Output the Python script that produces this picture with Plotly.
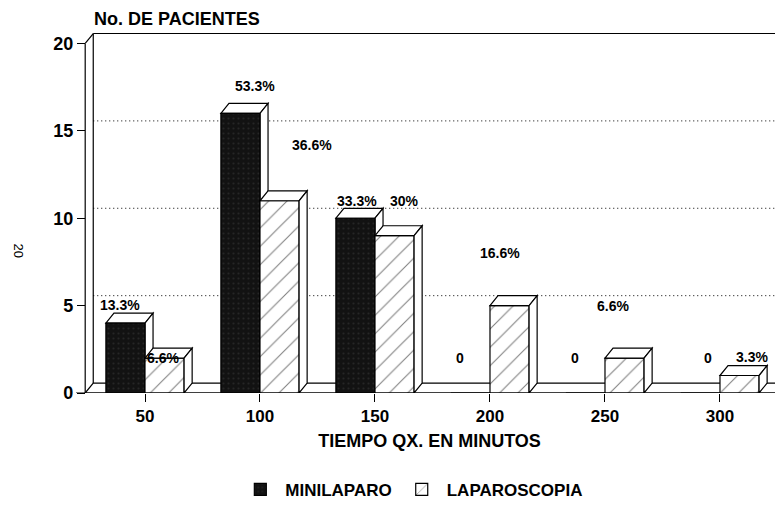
import plotly.graph_objects as go

# ---------------- data ----------------
categories = ["50", "100", "150", "200", "250", "300"]
minilaparo = [4, 16, 10, 0, 0, 0]
laparoscopia = [2, 11, 9, 5, 2, 1]
mini_labels = ["13.3%", "53.3%", "33.3%", "0", "0", "0"]
lap_labels = ["6.6%", "36.6%", "30%", "16.6%", "6.6%", "3.3%"]
y_ticks = [0, 5, 10, 15, 20]

# ---------------- style ----------------
mini_lab_dx = [-0.22, -0.04, -0.16, -0.26, -0.26, -0.10]
mini_lab_dy = [1.05, 1.55, 1.0, 2.0, 2.0, 2.0]
lap_lab_dx = [0.16, 0.45, 0.26, 0.09, 0.07, 0.28]
lap_lab_dy = [0.0, 3.2, 2.0, 3.0, 3.0, 1.05]

BAR_W = 0.34
DX, DY = 0.07, 0.57          # 3-D depth offset (data units)
XMIN, XMAX = -0.6, 5.548
YMAX = 21.0
AX_X = -0.52                 # front-left corner of the floor / y axis line
FONT = "Liberation Sans, Arial, sans-serif"
LW = 1.2

xs = list(range(len(categories)))

fig = go.Figure()
fig.add_bar(
    x=xs, y=minilaparo, width=BAR_W, offset=-BAR_W, name="MINILAPARO",
    marker=dict(color="#121212", line=dict(color="black", width=LW),
                pattern=dict(shape=".", fgcolor="#3a3a3a", bgcolor="#121212", size=5, solidity=0.15)),
)
fig.add_bar(
    x=xs, y=laparoscopia, width=BAR_W, offset=0, name="LAPAROSCOPIA",
    marker=dict(color="white", line=dict(color="black", width=LW),
                pattern=dict(shape="/", fgcolor="black", bgcolor="white", size=13, solidity=0.08)),
)

shapes = []
ln = dict(color="black", width=LW)

# floor slab
shapes.append(dict(type="path", xref="x", yref="y", layer="below",
                   path=f"M {AX_X},0 L {AX_X+DX},{DY} L {XMAX+1},{DY} L {XMAX+1},0 Z",
                   fillcolor="white", line=ln))
# dotted grid on back wall
for g in y_ticks[1:-1]:
    shapes.append(dict(type="line", xref="x", yref="y", layer="below",
                       x0=AX_X+DX, x1=XMAX+1, y0=g+DY, y1=g+DY,
                       line=dict(color="black", width=1, dash="1px,3px")))
# back wall edges
shapes.append(dict(type="line", xref="x", yref="y", layer="below",
                   x0=AX_X+DX, x1=AX_X+DX, y0=DY, y1=y_ticks[-1]+DY, line=ln))
shapes.append(dict(type="line", xref="x", yref="y", layer="below",
                   x0=AX_X+DX, x1=XMAX+1, y0=y_ticks[-1]+DY, y1=y_ticks[-1]+DY, line=ln))
# y axis line with 3-D corner
shapes.append(dict(type="line", xref="x", yref="y", layer="above",
                   x0=AX_X, x1=AX_X, y0=0, y1=y_ticks[-1], line=ln))
shapes.append(dict(type="line", xref="x", yref="y", layer="above",
                   x0=AX_X, x1=AX_X+DX, y0=y_ticks[-1], y1=y_ticks[-1]+DY, line=ln))
# front floor edge (x axis line)
shapes.append(dict(type="line", xref="x", yref="y", layer="above",
                   x0=XMIN, x1=XMAX+1, y0=0, y1=0, line=ln))


def bar_faces(x0, x1, v, layer):
    out = []
    if v <= 0:
        return out
    out.append(dict(type="path", xref="x", yref="y", layer=layer,
                    path=f"M {x0},{v} L {x1},{v} L {x1+DX},{v+DY} L {x0+DX},{v+DY} Z",
                    fillcolor="white", line=ln))
    out.append(dict(type="path", xref="x", yref="y", layer=layer,
                    path=f"M {x1},0 L {x1},{v} L {x1+DX},{v+DY} L {x1+DX},{DY} Z",
                    fillcolor="white", line=ln))
    return out


for i, v in enumerate(minilaparo):
    shapes += bar_faces(i - BAR_W, i, v, "below")
for i, v in enumerate(laparoscopia):
    shapes += bar_faces(i, i + BAR_W, v, "above")

lab_font = dict(family=FONT, size=14, color="black", weight="bold")
annotations = []
for i in xs:
    annotations.append(dict(x=i + mini_lab_dx[i], y=minilaparo[i] + mini_lab_dy[i],
                            xref="x", yref="y", text=mini_labels[i], showarrow=False,
                            font=lab_font))
    annotations.append(dict(x=i + lap_lab_dx[i], y=laparoscopia[i] + lap_lab_dy[i],
                            xref="x", yref="y", text=lap_labels[i], showarrow=False,
                            font=lab_font))

annotations.append(dict(x=0.0226, y=1.0204, xref="paper", yref="paper", xanchor="left",
                        yanchor="middle", text="No. DE PACIENTES", showarrow=False,
                        font=dict(family=FONT, size=18, color="black", weight="bold")))
annotations.append(dict(x=-0.081, y=0.389, xref="paper", yref="paper", text="20",
                        xanchor="center", yanchor="middle",
                        textangle=90, showarrow=False,
                        font=dict(family=FONT, size=13, color="black")))

# page has an 8px body margin, so the figure is 8px smaller and shifted
fig.update_layout(
    width=775, height=504,
    margin=dict(l=68, r=0, t=17.5, b=119),
    paper_bgcolor="white", plot_bgcolor="white",
    barmode="overlay",
    shapes=shapes, annotations=annotations,
    font=dict(family=FONT, size=16, color="black"),
    showlegend=True,
    legend=dict(orientation="h", x=0.475, xanchor="center", y=-0.264, yanchor="middle",
                font=dict(family=FONT, size=17, color="black", weight="bold"), itemwidth=40),
    xaxis=dict(range=[XMIN, XMAX], tickvals=xs, ticktext=categories,
               showgrid=False, zeroline=False, showline=False,
               ticks="outside", ticklen=8, tickwidth=LW, tickcolor="black",
               tickfont=dict(family=FONT, size=17, weight="bold"),
               title=dict(text="TIEMPO QX. EN MINUTOS", standoff=8,
                          font=dict(family=FONT, size=18, weight="bold"))),
    yaxis=dict(range=[0, YMAX], tickvals=y_ticks, anchor="free", position=0.0127,
               showgrid=False, zeroline=False, showline=False,
               ticks="outside", ticklen=8, tickwidth=LW, tickcolor="black",
               tickfont=dict(family=FONT, size=18, weight="bold")),
)

fig.write_html("out.html")
